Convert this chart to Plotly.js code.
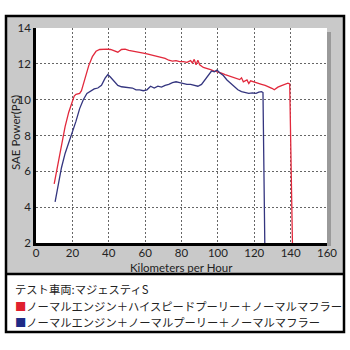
<!DOCTYPE html>
<html>
<head>
<meta charset="utf-8">
<script src="https://cdn.plot.ly/plotly-3.0.1.min.js"></script>
<style>html,body{margin:0;padding:0;background:#fff;}#chart{width:350px;height:350px;}</style>
</head>
<body>
<div id="chart"></div>
<script>
// ---- data ----
const redName = "ノーマルエンジン＋ハイスピードプーリー＋ノーマルマフラー";
const blueName = "ノーマルエンジン＋ノーマルプーリー＋ノーマルマフラー";
const vehicleLabel = "テスト車両:マジェスティS";
const xTitle = "Kilometers per Hour";
const yTitle = "SAE Power(PS)";
const xTicks = [0, 20, 40, 60, 80, 100, 120, 140, 160];
const yTicks = [2, 4, 6, 8, 10, 12, 14];

const redSpeed = [10, 12, 14, 16, 18, 20, 21, 22, 24, 25, 27, 29, 31, 33, 35, 37, 39, 41, 43, 45, 47, 49, 51, 53, 55, 57, 59, 61, 63, 65, 67, 69, 71, 73, 75, 77, 79, 81, 83, 85, 86, 87, 88, 89, 90, 92, 94, 96, 98, 100, 102, 104, 106, 108, 110, 112, 113, 114, 116, 117, 118, 120, 122, 124, 126, 128, 130, 131, 133, 135, 137, 138.5, 139.5, 140, 140.5, 141];
const redPower = [5.3, 6.4, 7.5, 8.5, 9.3, 9.9, 10.2, 10.3, 10.35, 10.5, 11.2, 11.9, 12.4, 12.7, 12.8, 12.82, 12.82, 12.8, 12.72, 12.65, 12.8, 12.82, 12.75, 12.72, 12.68, 12.62, 12.6, 12.55, 12.5, 12.45, 12.4, 12.35, 12.3, 12.2, 12.15, 12.18, 12.12, 12.12, 12.08, 12.18, 12.05, 12.25, 11.95, 12.2, 11.95, 11.8, 11.75, 11.68, 11.6, 11.55, 11.48, 11.4, 11.32, 11.25, 11.18, 11.12, 11.22, 11.0, 11.1, 10.9, 11.05, 11.0, 10.95, 10.86, 10.8, 10.72, 10.62, 10.55, 10.7, 10.78, 10.85, 10.92, 10.88, 7.0, 4.0, 2.0];

const blueSpeed = [10.5, 12, 14, 16, 18, 20, 22, 24, 26, 28, 30, 32, 34, 36, 38, 39.5, 41, 43, 45, 47, 49, 51, 53, 55, 57, 59, 61, 63, 65, 67, 69, 71, 73, 75, 77, 79, 81, 83, 85, 87, 89, 91, 93, 95, 96.5, 98, 99.5, 101, 103, 105, 107, 109, 111, 113, 115, 117, 119, 121, 122.5, 124, 124.8, 125.3, 125.8];
const bluePower = [4.3, 5.2, 6.2, 7.0, 7.6, 8.1, 8.8, 9.5, 10.0, 10.35, 10.5, 10.6, 10.65, 10.8, 11.2, 11.4, 11.25, 11.0, 10.8, 10.72, 10.7, 10.65, 10.65, 10.55, 10.55, 10.5, 10.55, 10.75, 10.65, 10.75, 10.7, 10.8, 10.85, 10.95, 11.0, 10.95, 10.9, 10.85, 10.85, 10.8, 10.75, 10.85, 11.1, 11.4, 11.6, 11.55, 11.65, 11.5, 11.35, 11.1, 10.9, 10.7, 10.55, 10.45, 10.38, 10.35, 10.38, 10.35, 10.42, 10.45, 10.4, 6.0, 2.0];

const redColor = "#e2293c";
const blueColor = "#34357f";
const legendRed = "#e0202e";
const legendBlue = "#1f2b85";

// ---- layout helpers (pixel -> paper) ----
const L = 36, R = 327, T = 28, B = 243;
const px = v => (v - L) / (R - L);
const py = v => (B - v) / (B - T);

const traces = [
  {x: redSpeed, y: redPower, name: redName, type: "scatter", mode: "lines",
   line: {color: redColor, width: 1.3}},
  {x: blueSpeed, y: bluePower, name: blueName, type: "scatter", mode: "lines",
   line: {color: blueColor, width: 1.3}}
];

const tickFont = {family: "Lato, sans-serif", size: 11.5, color: "#222"};
const titleFont = {family: "Lato, sans-serif", size: 11.5, color: "#222"};
const jpFont = {family: "Noto Sans CJK JP, sans-serif", size: 11.3, color: "#222"};

const white = {width: 0};
const layout = {
  width: 350, height: 350,
  margin: {l: L, r: 350 - R, t: T, b: 350 - B, pad: 0},
  paper_bgcolor: "#c9c9c9",
  plot_bgcolor: "#ffffff",
  showlegend: false,
  xaxis: {
    range: [0, 160], tickmode: "array", tickvals: xTicks,
    showgrid: true, gridcolor: "#666666", gridwidth: 1, griddash: "2px,2px",
    zeroline: false, showline: true, linecolor: "#000000", linewidth: 2.5,
    ticks: "", ticklabelstandoff: -3, tickfont: tickFont
  },
  yaxis: {
    range: [2, 14], tickmode: "array", tickvals: yTicks,
    showgrid: true, gridcolor: "#666666", gridwidth: 1, griddash: "2px,2px",
    zeroline: false, showline: true, linecolor: "#000000", linewidth: 2.5,
    ticks: "", ticklabelstandoff: 0, tickfont: tickFont
  },
  shapes: [
    // white surroundings outside the frame and the legend box
    {type: "rect", xref: "paper", yref: "paper", layer: "above",
     x0: px(0), x1: px(350), y0: py(350), y1: py(274), fillcolor: "#ffffff", line: white},
    {type: "rect", xref: "paper", yref: "paper", layer: "above",
     x0: px(0), x1: px(350), y0: py(16), y1: py(0), fillcolor: "#ffffff", line: white},
    {type: "rect", xref: "paper", yref: "paper", layer: "above",
     x0: px(0), x1: px(6), y0: py(350), y1: py(0), fillcolor: "#ffffff", line: white},
    {type: "rect", xref: "paper", yref: "paper", layer: "above",
     x0: px(344), x1: px(350), y0: py(350), y1: py(0), fillcolor: "#ffffff", line: white},
    // drop shadow right of the plot
    {type: "rect", xref: "paper", yref: "paper", layer: "above",
     x0: px(327), x1: px(331), y0: py(246), y1: py(32), fillcolor: "#9a9a9a", line: white},
    // separator and frame
    {type: "line", xref: "paper", yref: "paper", layer: "above",
     x0: px(6), x1: px(344), y0: py(274), y1: py(274), line: {color: "#000", width: 2.5}},
    {type: "rect", xref: "paper", yref: "paper", layer: "above",
     x0: px(6), x1: px(344), y0: py(332), y1: py(16),
     fillcolor: "rgba(0,0,0,0)", line: {color: "#000", width: 2.5}}
  ],
  annotations: [
    // axis titles
    {xref: "paper", yref: "paper", x: 0.5, y: py(267), xanchor: "center", yanchor: "middle",
     showarrow: false, text: xTitle, font: titleFont},
    {xref: "paper", yref: "paper", x: px(15), y: py(133), xanchor: "center", yanchor: "middle",
     showarrow: false, text: yTitle, font: titleFont, textangle: -90},
    // legend block
    {xref: "paper", yref: "paper", x: px(13), y: py(289), xanchor: "left", yanchor: "middle",
     showarrow: false, text: vehicleLabel, font: jpFont},
    {xref: "paper", yref: "paper", x: px(13), y: py(306), xanchor: "left", yanchor: "middle",
     showarrow: false, text: '<span style="color:' + legendRed + '">■</span>' + redName, font: jpFont},
    {xref: "paper", yref: "paper", x: px(13), y: py(322), xanchor: "left", yanchor: "middle",
     showarrow: false, text: '<span style="color:' + legendBlue + '">■</span>' + blueName, font: jpFont}
  ]
};

Plotly.newPlot("chart", traces, layout, {displayModeBar: false});
</script>
</body>
</html>
